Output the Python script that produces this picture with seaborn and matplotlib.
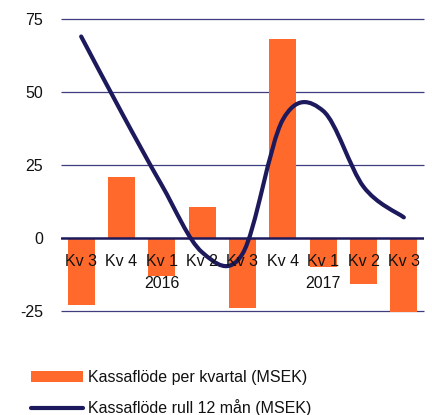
import pandas as pd
import matplotlib
matplotlib.use('Agg')
import matplotlib.pyplot as plt
import seaborn as sns
from matplotlib.path import Path
from matplotlib.patches import PathPatch, Patch
from matplotlib.lines import Line2D

# Data
period = ['2015 Kv 3', '2015 Kv 4', '2016 Kv 1', '2016 Kv 2', '2016 Kv 3',
          '2016 Kv 4', '2017 Kv 1', '2017 Kv 2', '2017 Kv 3']
kvartal = ['Kv 3', 'Kv 4', 'Kv 1', 'Kv 2', 'Kv 3', 'Kv 4', 'Kv 1', 'Kv 2', 'Kv 3']
ar = ['2016', '2017']
ar_pos = [2, 6]
kassaflode_kvartal = [-23, 21, -13, 10.5, -24, 68, -10, -16, -25.5]
kassaflode_rull12 = [69, 43, 18, -5, -5.5, 40.5, 43.5, 17.5, 7]
yticks = [-25, 0, 25, 50, 75]

orange = '#ff6a2c'
navy = '#1c1a5c'
gridc = '#3f3d80'
textc = '#111111'
fs = 11.5

sns.set_style('white')
plt.rcParams['font.family'] = ['Liberation Sans', 'DejaVu Sans']
plt.rcParams['axes.unicode_minus'] = False

df = pd.DataFrame({'period': period, 'kvartal': kassaflode_kvartal})

fig = plt.figure(figsize=(4.32, 4.15), dpi=100)
ax = fig.add_axes([61 / 432, 1 - 310.7 / 415, 363 / 432, 291.7 / 415])

# gridlines under the bars
ax.hlines([t for t in yticks if t != 0], -0.5, 8.5, color=gridc, lw=0.9,
          zorder=0, clip_on=False)

sns.barplot(data=df, x='period', y='kvartal', color=orange, saturation=1,
            width=0.67, linewidth=0, ax=ax, zorder=2)
for p in ax.patches:
    p.set_clip_on(False)

ax.axhline(0, color=navy, lw=1.8, zorder=3)

# smoothed line (Catmull-Rom as cubic Bezier segments)
pts = list(zip(range(len(kassaflode_rull12)), kassaflode_rull12))
n = len(pts)
verts = [pts[0]]
codes = [Path.MOVETO]
for i in range(n - 1):
    p0 = pts[max(i - 1, 0)]
    p1 = pts[i]
    p2 = pts[i + 1]
    p3 = pts[min(i + 2, n - 1)]
    c1 = (p1[0] + (p2[0] - p0[0]) / 6, p1[1] + (p2[1] - p0[1]) / 6)
    c2 = (p2[0] - (p3[0] - p1[0]) / 6, p2[1] - (p3[1] - p1[1]) / 6)
    verts += [c1, c2, p2]
    codes += [Path.CURVE4] * 3
ax.add_patch(PathPatch(Path(verts, codes), facecolor='none', edgecolor=navy,
                       lw=3, capstyle='round', zorder=4, clip_on=False))

ax.set_xlim(-0.5, 8.5)
ax.set_ylim(-25, 75)
ax.set_yticks(yticks)
ax.set_xticks([])
sns.despine(ax=ax, left=True, bottom=True)
ax.set_xlabel('')
ax.set_ylabel('')
ax.tick_params(axis='y', length=0, pad=13, labelsize=fs, labelcolor=textc)

# category labels sit just under the zero line, over the bars
for i, lab in enumerate(kvartal):
    ax.annotate(lab, (i, 0), xytext=(0, -17), textcoords='offset points',
                ha='center', va='center', fontsize=fs, color=textc, zorder=5)
for pos, year in zip(ar_pos, ar):
    ax.annotate(year, (pos, 0), xytext=(0, -33), textcoords='offset points',
                ha='center', va='center', fontsize=fs, color=textc, zorder=5)

handles = [Patch(facecolor=orange, edgecolor='none'),
           Line2D([0], [0], color=navy, lw=3, solid_capstyle='round')]
labels = ['Kassaflöde per kvartal (MSEK)', 'Kassaflöde rull 12 mån (MSEK)']
fig.legend(handles, labels, loc='upper left', bbox_to_anchor=(31 / 432, 1 - 370 / 415),
           frameon=False, fontsize=fs, handlelength=3.25, handletextpad=0.31,
           labelspacing=0.9, borderpad=0, borderaxespad=0, labelcolor=textc)

fig.savefig('out.png', dpi=100)
